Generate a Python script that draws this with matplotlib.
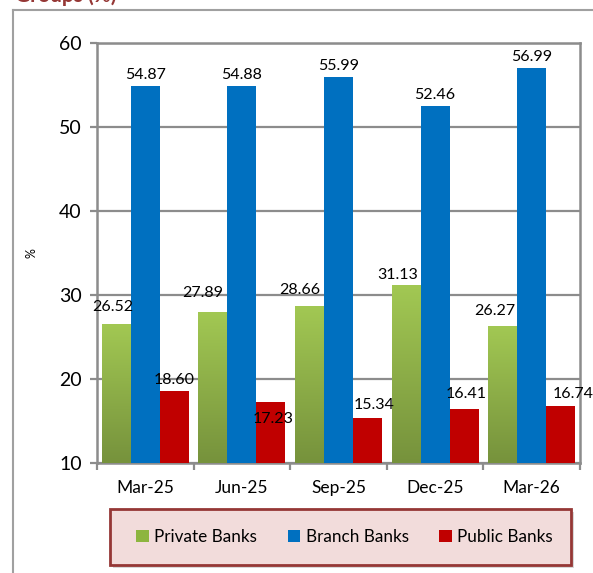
import matplotlib
matplotlib.use("Agg")
import matplotlib.pyplot as plt
import numpy as np
from matplotlib.patches import Patch, Rectangle
from matplotlib.lines import Line2D
from matplotlib.colors import LinearSegmentedColormap

categories = ["Mar-25", "Jun-25", "Sep-25", "Dec-25", "Mar-26"]
private_banks = [26.52, 27.89, 28.66, 31.13, 26.27]
branch_banks = [54.87, 54.88, 55.99, 52.46, 56.99]
public_banks = [18.60, 17.23, 15.34, 16.41, 16.74]
series_names = ["Private Banks", "Branch Banks", "Public Banks"]
yticks = [10, 20, 30, 40, 50, 60]

# label offsets (pixels) - style only
priv_dx = [-4, -10, -10, -8, -8]
priv_dy = [4, 7, 3, -2, 2]
pub_dx = [0, 2, 7, 2, 13]
pub_dy = [-2, -30, 0, 2, -1]
blue_dy = [-2, -2, -2, -2, -2]

plt.rcParams['font.family'] = ['Lato', 'DejaVu Sans']

W, H = 593, 573
fig = plt.figure(figsize=(W/100, H/100), dpi=100)
ax = fig.add_axes([97/W, 1-463/H, (580-97)/W, (463-43)/H])

x = np.arange(len(categories))
bw = 0.3
green_top, green_bot = "#a2c853", "#76923c"
blue, red = "#0070c0", "#c00000"
grid_c = "#8c8c8c"

gb = ax.bar(x - bw, private_banks, bw, bottom=0, color="none", zorder=3)
bb = ax.bar(x, branch_banks, bw, color=blue, zorder=3)
pb = ax.bar(x + bw, public_banks, bw, color=red, zorder=3)

cmap = LinearSegmentedColormap.from_list("g", [green_bot, green_top])
grad = np.linspace(0, 1, 256).reshape(-1, 1)
for r in gb:
    x0 = r.get_x(); x1 = x0 + r.get_width(); top = r.get_height()
    ax.imshow(grad, cmap=cmap, origin="lower", aspect="auto",
              extent=[x0, x1, 10, top], zorder=3)
ax.set_xlim(-0.5, len(categories)-0.5)
ax.set_ylim(10, 60)

lab_fs = 11.5
def label(r, v, dx, dy):
    ax.annotate(f"{v:.2f}", (r.get_x()+r.get_width()/2, v),
                xytext=(dx*0.72, (6+dy)*0.72), textcoords="offset points",
                ha="center", va="bottom", fontsize=lab_fs, zorder=5, annotation_clip=False)
for i, r in enumerate(gb):
    label(r, private_banks[i], priv_dx[i], priv_dy[i])
for i, r in enumerate(bb):
    label(r, branch_banks[i], 0, blue_dy[i])
for i, r in enumerate(pb):
    label(r, public_banks[i], pub_dx[i], pub_dy[i])

ax.set_yticks(yticks)
ax.set_yticklabels([str(t) for t in yticks], fontsize=14)
ax.yaxis.grid(True, color=grid_c, linewidth=1.6, zorder=0)
ax.set_axisbelow(True)
ax.set_xticks(x)
ax.set_xticklabels(categories, fontsize=12.5)
ax.set_xticks(np.arange(-0.5, len(categories)), minor=True)
ax.tick_params(axis="x", which="major", length=0, pad=12)
ax.tick_params(axis="x", which="minor", length=5, width=1.6, color=grid_c)
ax.tick_params(axis="y", length=5, width=1.6, color=grid_c, pad=6)
for s in ax.spines.values():
    s.set_color(grid_c); s.set_linewidth(1.8)
ax.set_ylabel("%", fontsize=9)
ax.yaxis.set_label_coords((38-97)/(580-97), 0.5)

# outer chart border (partially visible)
fig.add_artist(Line2D([13/W, 13/W], [0, 1-10/H], color="#a0a0a0", lw=1.5, transform=fig.transFigure))
fig.add_artist(Line2D([13/W, 1], [1-10/H, 1-10/H], color="#a0a0a0", lw=1.5, transform=fig.transFigure))
fig.text(15/W, 1-2/H, "Groups (%)", color="#953735", fontsize=15, fontweight="bold",
         ha="left", va="baseline")

# legend box with shadow
lx0, lx1, ly0, ly1 = 110, 571, 509, 565
fig.add_artist(Rectangle(((lx0+3)/W, 1-(ly1+3)/H), (lx1-lx0)/W, (ly1-ly0)/H,
                         transform=fig.transFigure, facecolor="#c8c8c8", edgecolor="none",
                         alpha=0.7, zorder=1))
fig.add_artist(Rectangle((lx0/W, 1-ly1/H), (lx1-lx0)/W, (ly1-ly0)/H,
                         transform=fig.transFigure, facecolor="#f2dcdb", edgecolor="#953735",
                         linewidth=2, zorder=2))
handles = [Patch(facecolor="#8db53f"), Patch(facecolor=blue), Patch(facecolor=red)]
leg = fig.legend(handles, series_names, loc="center", ncol=3,
                 bbox_to_anchor=(344.5/W, 1-537/H),
                 fontsize=12.3, frameon=False,
                 handlelength=0.75, handleheight=0.75, handletextpad=0.3,
                 columnspacing=1.8)
leg.set_zorder(3)

fig.savefig("out.png", dpi=100)
